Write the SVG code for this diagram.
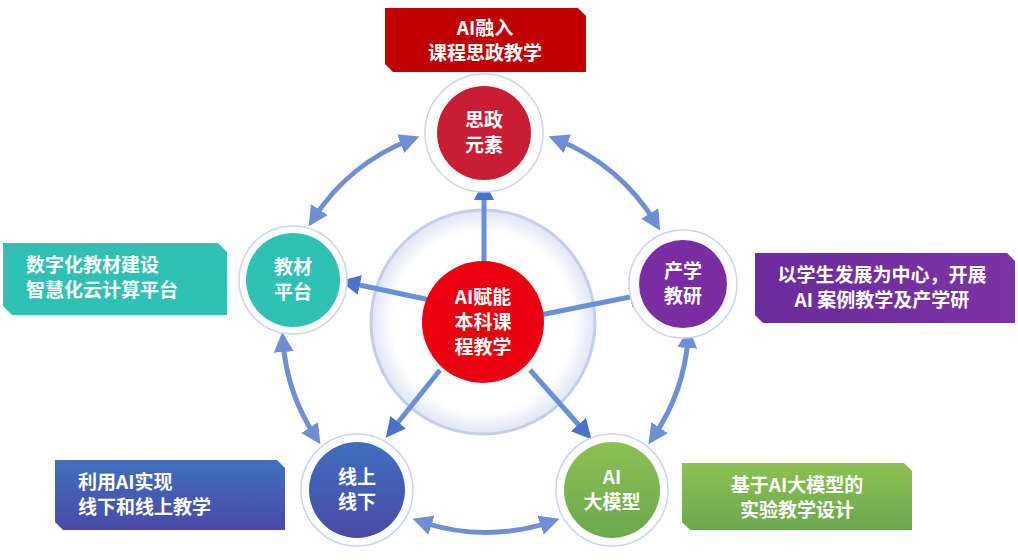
<svg xmlns="http://www.w3.org/2000/svg" width="1018" height="560" viewBox="0 0 1018 560">
<style>
text{font-family:"Noto Sans CJK SC","Liberation Sans",sans-serif;font-weight:bold;fill:#fff;text-anchor:middle}
.nt{font-size:19px}
.bt{font-size:19px}
.halo{fill:#fff;stroke:#c9d4ee;stroke-width:1.5}
.arc{fill:none;stroke:#6f8fd4;stroke-width:5;marker-start:url(#ah);marker-end:url(#ah)}
.ray{stroke:#6b8fd6;stroke-width:5;marker-end:url(#ah2)}
</style>
<defs>
<marker id="ah" viewBox="0 0 10 10" refX="5" refY="5" markerWidth="4" markerHeight="4" orient="auto-start-reverse"><path d="M0,0L10,5L0,10Z" fill="#6f8fd4"/></marker>
<marker id="ah2" viewBox="0 0 10 10" refX="5" refY="5" markerWidth="4" markerHeight="4" orient="auto"><path d="M0,0L10,5L0,10Z" fill="#4a72cc"/></marker>
<radialGradient id="rg" cx="0.5" cy="0.5" r="0.5"><stop offset="0.8" stop-color="#fff"/><stop offset="1" stop-color="#dfe6f6"/></radialGradient>
<linearGradient id="bl" x1="0" y1="0" x2="0" y2="1"><stop offset="0" stop-color="#3f6fbf"/><stop offset="1" stop-color="#4a4aa6"/></linearGradient>
<linearGradient id="gr" x1="0" y1="0" x2="0" y2="1"><stop offset="0" stop-color="#8cc152"/><stop offset="1" stop-color="#6aa84f"/></linearGradient>
<linearGradient id="pu" x1="0" y1="0" x2="1" y2="0"><stop offset="0" stop-color="#6a2c9c"/><stop offset="1" stop-color="#7b33a6"/></linearGradient>
</defs>
<circle cx="483" cy="322" r="112" fill="url(#rg)" stroke="#c3cfea" stroke-width="3"/>
<g id="connectors">
<path class="arc" d="M410,140 A200,200 0 0 0 314,218"/>
<path class="arc" d="M558,140 A200,200 0 0 1 655,222"/>
<path class="arc" d="M688,338 A200,200 0 0 1 654,436"/>
<path class="arc" d="M283,342 A200,200 0 0 0 315,436"/>
<path class="arc" d="M422,522 A200,200 0 0 0 550,522"/>
<line class="ray" x1="484" y1="262" x2="484" y2="190"/>
<line class="ray" x1="430" y1="300" x2="350" y2="283"/>
<line class="ray" x1="540" y1="315" x2="640" y2="295"/>
<line class="ray" x1="440" y1="370" x2="392" y2="430"/>
<line class="ray" x1="530" y1="370" x2="585" y2="432"/>
</g>
<g id="center"><circle cx="483" cy="322" r="61" fill="#e8000f"/><text class="nt" x="483" y="304">AI赋能</text><text class="nt" x="483" y="329">本科课</text><text class="nt" x="483" y="354">程教学</text></g>
<g id="n1"><circle class="halo" cx="484" cy="133" r="59"/><circle cx="484" cy="133" r="47" fill="#c81d33"/><text class="nt" x="484" y="127">思政</text><text class="nt" x="484" y="152">元素</text></g>
<g id="n2"><circle class="halo" cx="293" cy="280" r="54"/><circle cx="293" cy="280" r="47" fill="#31c1b4"/><text class="nt" x="293" y="274">教材</text><text class="nt" x="293" y="299">平台</text></g>
<g id="n3"><circle class="halo" cx="683" cy="284" r="54"/><circle cx="683" cy="284" r="44" fill="#7a2ca3"/><text class="nt" x="683" y="278">产学</text><text class="nt" x="683" y="303">教研</text></g>
<g id="n4"><circle class="halo" cx="357" cy="490" r="56"/><circle cx="357" cy="490" r="48" fill="url(#bl)"/><text class="nt" x="357" y="484">线上</text><text class="nt" x="357" y="509">线下</text></g>
<g id="n5"><circle class="halo" cx="612" cy="490" r="56"/><circle cx="612" cy="490" r="48" fill="url(#gr)"/><text class="nt" x="612" y="484">AI</text><text class="nt" x="612" y="509">大模型</text></g>
<g id="b1"><path d="M385,8H578L586,16V72H393L385,64Z" fill="#c00000"/><text class="bt" x="485" y="35">AI融入</text><text class="bt" x="485" y="60">课程思政教学</text></g>
<g id="b2"><path d="M3,243H218L227,252V315H12L3,306Z" fill="#31c1b4"/><text class="bt" x="110" y="272" style="text-anchor:start" dx="-84">数字化教材建设</text><text class="bt" x="26" y="297" style="text-anchor:start">智慧化云计算平台</text></g>
<g id="b3"><path d="M755,253H1007L1015,261V323H763L755,315Z" fill="url(#pu)"/><text class="bt" x="882" y="282">以学生发展为中心，开展</text><text class="bt" x="882" y="307">AI 案例教学及产学研</text></g>
<g id="b4"><path d="M55,460H277L285,468V530H63L55,522Z" fill="url(#bl)"/><text class="bt" x="78" y="489" style="text-anchor:start">利用AI实现</text><text class="bt" x="78" y="514" style="text-anchor:start">线下和线上教学</text></g>
<g id="b5"><path d="M682,463H904L912,471V530H690L682,522Z" fill="url(#gr)"/><text class="bt" x="797" y="492">基于AI大模型的</text><text class="bt" x="797" y="517">实验教学设计</text></g>
</svg>
